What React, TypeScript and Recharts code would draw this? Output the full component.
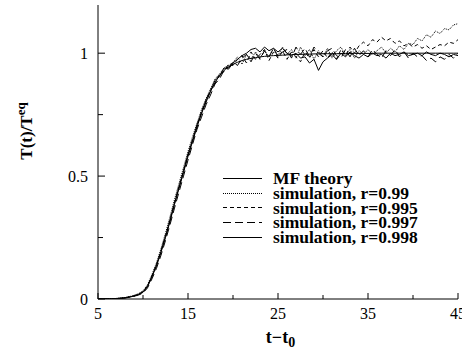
import React from 'react';
import { LineChart, Line, XAxis, YAxis, Legend } from 'recharts';

const FONT = '"Liberation Serif", "Times New Roman", Times, serif';

const tValues = [
  5, 5.5, 6, 6.5, 7, 7.5, 8, 8.5, 9, 9.5,
  10, 10.5, 11, 11.5, 12, 12.5, 13, 13.5, 14, 14.5,
  15, 15.5, 16, 16.5, 17, 17.5, 18, 18.5, 19, 19.5,
  20, 20.5, 21, 21.5, 22, 22.5, 23, 23.5, 24, 24.5,
  25, 25.5, 26, 26.5, 27, 27.5, 28, 28.5, 29, 29.5,
  30, 30.5, 31, 31.5, 32, 32.5, 33, 33.5, 34, 34.5,
  35, 35.5, 36, 36.5, 37, 37.5, 38, 38.5, 39, 39.5,
  40, 40.5, 41, 41.5, 42, 42.5, 43, 43.5, 44, 44.5,
  45,
];

const mfTheory = [
  0, 0, 0.0005, 0.001, 0.002, 0.003, 0.005, 0.008, 0.012, 0.018,
  0.027, 0.05, 0.09, 0.135, 0.19, 0.25, 0.315, 0.385, 0.45, 0.515,
  0.58, 0.64, 0.7, 0.755, 0.8, 0.845, 0.88, 0.91, 0.93, 0.945,
  0.955, 0.963, 0.97, 0.975, 0.979, 0.982, 0.985, 0.987, 0.989, 0.99,
  0.991, 0.992, 0.993, 0.994, 0.995, 0.995, 0.996, 0.996, 0.997, 0.997,
  0.998, 0.998, 0.998, 0.998, 0.998, 0.999, 0.999, 0.999, 0.999, 0.999,
  0.999, 0.999, 1, 1, 1, 1, 1, 1, 1, 1,
  1, 1, 1, 1, 1, 1, 1, 1, 1, 1,
  1,
];

const simR099 = [
  0, 0, 0.001, 0.001, 0.002, 0.004, 0.006, 0.01, 0.015, 0.022,
  0.033, 0.058, 0.1, 0.148, 0.205, 0.268, 0.335, 0.405, 0.47, 0.535,
  0.6, 0.66, 0.715, 0.77, 0.815, 0.855, 0.895, 0.915, 0.94, 0.95,
  0.962, 0.985, 0.955, 0.995, 0.975, 1.005, 0.98, 1.01, 0.985, 1.02,
  0.99, 1.025, 0.995, 1.015, 0.98, 1.025, 0.99, 1.015, 0.975, 1.01,
  0.985, 1.02, 0.98, 1.01, 1.025, 0.99, 1.015, 0.98, 1.01, 0.995,
  1.015, 0.995, 1.01, 1.025, 1.0, 1.02, 1.005, 1.03, 1.015, 1.04,
  1.035, 1.06, 1.05, 1.075, 1.065, 1.09, 1.08, 1.1, 1.095, 1.115,
  1.12,
];

const simR0995 = [
  0, 0, 0.0005, 0.001, 0.002, 0.003, 0.005, 0.009, 0.013, 0.02,
  0.03, 0.054, 0.095, 0.14, 0.197, 0.258, 0.322, 0.392, 0.458, 0.522,
  0.585, 0.648, 0.7, 0.765, 0.805, 0.85, 0.875, 0.915, 0.925, 0.955,
  0.95, 0.975, 0.99, 0.96, 1.005, 0.975, 0.995, 1.015, 0.97, 1.005,
  0.98, 1.01, 0.975, 1.005, 0.985, 0.965, 1.005, 0.98, 1.015, 0.985,
  1.01, 0.98, 1.005, 0.975, 1.015, 0.99, 1.025, 1.0, 1.03, 1.045,
  1.03, 1.055, 1.045, 1.065, 1.05, 1.06, 1.04, 1.05, 1.03, 1.04,
  1.025, 1.035, 1.02, 1.03, 1.015, 1.025, 1.035, 1.03, 1.045, 1.04,
  1.055,
];

const simR0997 = [
  0, 0, 0, 0.001, 0.001, 0.002, 0.004, 0.007, 0.011, 0.016,
  0.024, 0.045, 0.082, 0.125, 0.178, 0.238, 0.302, 0.37, 0.435, 0.5,
  0.565, 0.628, 0.69, 0.74, 0.79, 0.83, 0.875, 0.895, 0.93, 0.94,
  0.965, 0.95, 0.98, 0.995, 0.965, 1.0, 0.975, 1.01, 0.985, 1.02,
  0.985, 1.005, 1.015, 0.98, 1.025, 0.995, 1.02, 0.985, 1.025, 1.0,
  0.985, 1.01, 1.02, 0.99, 0.98, 1.015, 0.985, 1.02, 0.99, 1.01,
  0.985, 1.015, 0.995, 0.98, 1.01, 0.99, 1.015, 0.985, 1.005, 0.98,
  1.0, 0.985, 0.99, 0.97, 0.98, 0.965, 0.985, 0.975, 0.995, 0.98,
  1.0,
];

const simR0998 = [
  0, 0, 0.0005, 0.001, 0.002, 0.003, 0.005, 0.008, 0.012, 0.019,
  0.029, 0.052, 0.093, 0.138, 0.194, 0.255, 0.32, 0.39, 0.455, 0.52,
  0.59, 0.645, 0.71, 0.755, 0.81, 0.845, 0.89, 0.905, 0.94, 0.935,
  0.96, 0.975, 0.99, 1.0, 1.015, 1.02, 1.005, 1.025, 1.01, 1.02,
  1.005, 1.02, 1.0, 0.99, 1.0, 0.98, 0.985, 0.96, 0.975, 0.93,
  0.965, 0.98, 0.995, 0.975, 1.0, 0.985, 1.005, 0.99, 0.98, 0.995,
  0.985, 1.0, 0.99, 0.995, 0.98, 1.0, 0.99, 0.995, 1.005, 0.99,
  0.995, 1.0, 0.99, 1.005, 0.995, 0.99, 1.0, 0.995, 0.985, 0.995,
  0.99,
];

const xTicks = [5, 10, 15, 20, 25, 30, 35, 40, 45];
const xMajorTicks = [5, 15, 25, 35, 45];
const yTicks = [0, 0.25, 0.5, 0.75, 1];
const yMajorTicks = [0, 0.5, 1];
const xDomain = [5, 45];
const yDomain = [0, 1.196];

const seriesKeys = ['mf', 's1', 's2', 's3', 's4'];
const seriesNames = [
  'MF theory',
  'simulation, r=0.99',
  'simulation, r=0.995',
  'simulation, r=0.997',
  'simulation, r=0.998',
];
const seriesDash = ['', '1 1', '4 3', '8 4', ''];

const chartData = tValues.map((t, i) => ({
  t,
  mf: mfTheory[i],
  s1: simR099[i],
  s2: simR0995[i],
  s3: simR0997[i],
  s4: simR0998[i],
}));

const BottomTick = (props: any) => {
  const { x, y, payload } = props;
  const v = payload.value;
  const major = xMajorTicks.includes(v);
  return (
    <g>
      <line x1={x} x2={x} y1={y} y2={y - (major ? 6 : 4)} stroke="#000" strokeWidth={1} />
      {major && (
        <text x={x} y={y + 20} textAnchor="middle" fontFamily={FONT} fontSize={16} fill="#000">
          {v}
        </text>
      )}
    </g>
  );
};

const TopTick = (props: any) => {
  const { x, y, payload } = props;
  const major = xMajorTicks.includes(payload.value);
  return <line x1={x} x2={x} y1={y} y2={y + (major ? 6 : 4)} stroke="#000" strokeWidth={1} />;
};

const LeftTick = (props: any) => {
  const { x, y, payload } = props;
  const v = payload.value;
  const major = yMajorTicks.includes(v);
  return (
    <g>
      <line x1={x} x2={x + (major ? 7 : 5)} y1={y} y2={y} stroke="#000" strokeWidth={1} />
      {major && (
        <text x={x - 10} y={y + 5.5} textAnchor="end" fontFamily={FONT} fontSize={16} fill="#000">
          {String(v)}
        </text>
      )}
    </g>
  );
};

const RightTick = (props: any) => {
  const { x, y, payload } = props;
  const major = yMajorTicks.includes(payload.value);
  return <line x1={x} x2={x - (major ? 7 : 5)} y1={y} y2={y} stroke="#000" strokeWidth={1} />;
};

const XLabel = (props: any) => {
  const vb = props.viewBox || { x: 98, y: 299, width: 360, height: 55 };
  const cx = vb.x + vb.width / 2 + 2.5;
  const by = vb.y + 44;
  return (
    <text x={cx} y={by} textAnchor="middle" fontFamily={FONT} fontWeight="bold" fontSize={18} fill="#000">
      t{'\u2212'}t<tspan dy={4} fontSize={14}>0</tspan>
    </text>
  );
};

const YLabel = (props: any) => {
  const vb = props.viewBox || { x: 0, y: 5, width: 98, height: 294 };
  const cy = vb.y + vb.height / 2 - 21;
  const bx = vb.x + 32;
  return (
    <text
      x={0}
      y={0}
      transform={`translate(${bx},${cy}) rotate(-90)`}
      textAnchor="middle"
      fontFamily={FONT}
      fontWeight="bold"
      fontSize={17}
      fill="#000"
    >
      T(t)/T<tspan dy={-7} fontSize={13}>eq</tspan>
    </text>
  );
};

const LegendBox = () => (
  <div style={{ fontFamily: FONT, fontWeight: 'bold', fontSize: 17.5, color: '#000' }}>
    {seriesNames.map((name, i) => (
      <div
        key={name}
        style={{ display: 'flex', alignItems: 'center', height: 14.75, lineHeight: '14.75px', whiteSpace: 'nowrap', overflow: 'visible' }}
      >
        <svg width={39} height={3} style={{ display: 'block', marginRight: 11 }}>
          <line x1={0} x2={39} y1={1.5} y2={1.5} stroke="#000" strokeWidth={1} strokeDasharray={seriesDash[i] || undefined} />
        </svg>
        <span style={{ display: 'inline-block', height: 14.75, lineHeight: '14.75px', overflow: 'visible' }}>{name}</span>
      </div>
    ))}
  </div>
);

export default function App() {
  return (
    <div style={{ position: 'absolute', left: 0, top: 0, width: 462, height: 354, background: '#fff' }}>
      <LineChart width={462} height={354} data={chartData} margin={{ top: 5, right: 4, bottom: 0, left: 0 }}>
        <XAxis
          xAxisId="b"
          dataKey="t"
          type="number"
          domain={xDomain}
          ticks={xTicks}
          interval={0}
          height={55}
          tickSize={0}
          tickMargin={0}
          tickLine={false}
          axisLine={{ stroke: '#000' }}
          tick={BottomTick}
          allowDataOverflow
          label={XLabel}
        />
        <XAxis
          xAxisId="top"
          orientation="top"
          dataKey="t"
          type="number"
          domain={xDomain}
          ticks={xTicks}
          interval={0}
          height={0}
          tickSize={0}
          tickMargin={0}
          tickLine={false}
          axisLine={{ stroke: '#000' }}
          tick={TopTick}
          allowDataOverflow
        />
        <YAxis
          yAxisId="l"
          type="number"
          domain={yDomain}
          ticks={yTicks}
          interval={0}
          width={98}
          tickSize={0}
          tickMargin={0}
          tickLine={false}
          axisLine={{ stroke: '#000' }}
          tick={LeftTick}
          allowDataOverflow
          label={YLabel}
        />
        <YAxis
          yAxisId="r"
          orientation="right"
          type="number"
          domain={yDomain}
          ticks={yTicks}
          interval={0}
          width={0}
          tickSize={0}
          tickMargin={0}
          tickLine={false}
          axisLine={{ stroke: '#000' }}
          tick={RightTick}
          allowDataOverflow
        />
        {seriesKeys.map((k, i) => (
          <Line
            key={k}
            xAxisId="b"
            yAxisId="l"
            type="linear"
            dataKey={k}
            name={seriesNames[i]}
            stroke="#000"
            strokeWidth={1}
            strokeDasharray={seriesDash[i] || undefined}
            dot={false}
            activeDot={false}
            isAnimationActive={false}
          />
        ))}
        <Legend
          layout="vertical"
          align="center"
          verticalAlign="middle"
          wrapperStyle={{ position: 'absolute', left: 223, top: 171, width: 'auto', height: 'auto' }}
          content={LegendBox}
        />
      </LineChart>
    </div>
  );
}
